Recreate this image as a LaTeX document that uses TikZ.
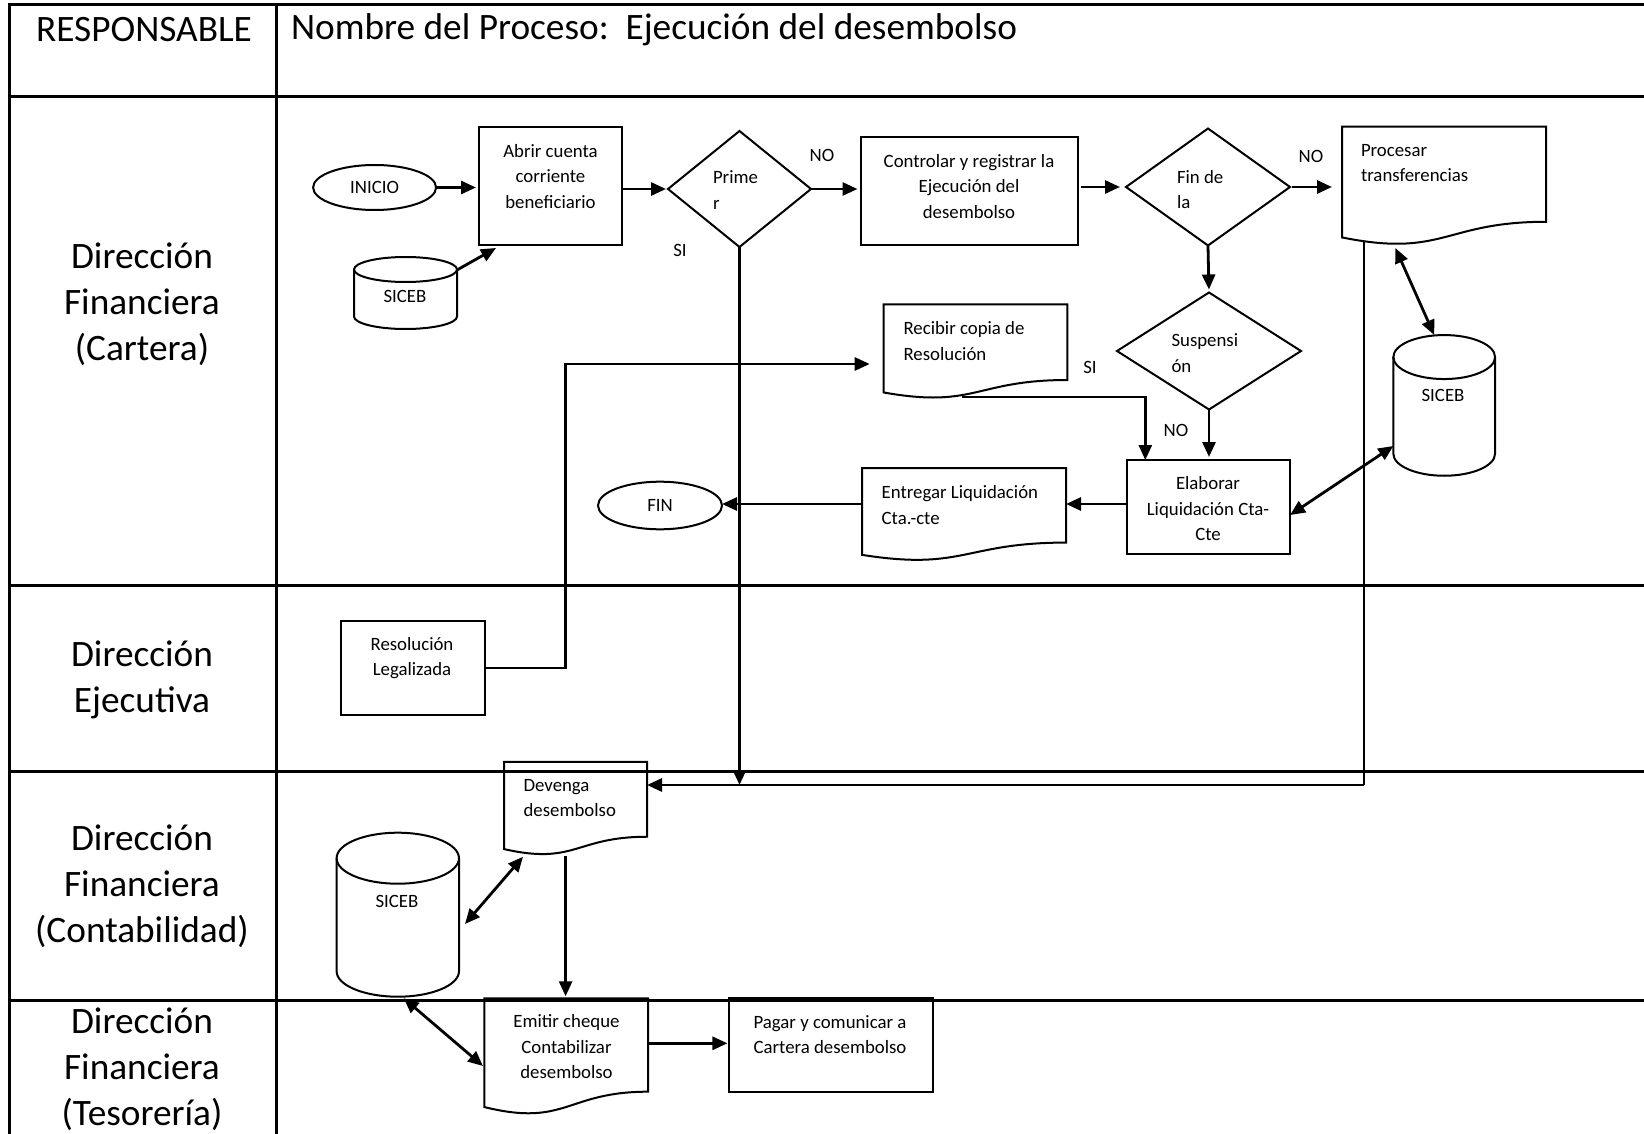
\documentclass[tikz,border=0pt]{standalone}
\usepackage{fontspec}
\setmainfont{Carlito}
\usetikzlibrary{arrows.meta,shapes.geometric,calc}

\newcommand\mydoc[1]{%
  \draw[outline] (#1.north west) -- (#1.north east) -- ($(#1.north east)!0.802!(#1.south east)$)
    .. controls ($(#1.north)!0.802!(#1.south)$) and ($(#1.north)!1.1075!(#1.south)$) ..
    ($(#1.north west)!0.934!(#1.south west)$) -- cycle;}
\newcommand\mycyl[3]{%
  \draw[outline] ([yshift=-#3]#1.north west) -- ([yshift=#3]#1.south west)
    arc[start angle=180,end angle=360,x radius=#2,y radius=#3]
    -- ([yshift=-#3]#1.north east)
    arc[start angle=0,end angle=180,x radius=#2,y radius=#3] -- cycle;
  \draw[outline] ([yshift=-#3]#1.north west) arc[start angle=180,end angle=360,x radius=#2,y radius=#3];}

\begin{document}
\begin{tikzpicture}[x=1pt,y=-1pt,
  every node/.style={inner sep=0pt, outer sep=0pt},
  small/.style={font=\fontsize{18.8}{25.5}\selectfont},
  big/.style={font=\fontsize{37.3}{46}\selectfont},
  outline/.style={draw=black, line width=2pt},
  boxnode/.style={rectangle, outline},
  frame/.style={rectangle},
  oval/.style={ellipse, outline, small},
  decision/.style={diamond, outline},
  arr/.style={line width=2.8pt, -{Triangle[length=15pt,width=13pt]}},
  darr/.style={line width=2.8pt, {Triangle[length=15pt,width=13pt]}-{Triangle[length=15pt,width=13pt]}},
  thinline/.style={line width=1.6pt},
  tline/.style={line width=3pt},
  txt/.style={small, align=center},
  txtl/.style={small, align=left, anchor=west},
  lane/.style={big, align=center},
]
\useasboundingbox (0,0) rectangle (1644,1134);

% table
\draw[tline] (8,5) -- (1644,5);
\draw[tline] (8,97) -- (1644,97);
\draw[tline] (8,585) -- (1644,585);
\draw[tline] (8,771) -- (1644,771);
\draw[tline] (8,1000) -- (1644,1000);
\draw[tline] (9.5,5) -- (9.5,1134);
\draw[tline] (276,5) -- (276,1134);

\node[big] (hresp) at (144,30) {RESPONSABLE};
\node[big, anchor=west] (hname) at (291,30) {Nombre del Proceso:~~Ejecución del desembolso};

\node[lane] (lcart) at (142,304) {Dirección\\Financiera\\(Cartera)};
\node[lane] (lejec) at (142,680) {Dirección\\Ejecutiva};
\node[lane] (lcont) at (142,886.5) {Dirección\\Financiera\\(Contabilidad)};
\node[lane] (ltes) at (142,1069) {Dirección\\Financiera\\(Tesorería)};

% shapes
\node[oval, minimum width=123pt, minimum height=45pt] (inicio) at (374.6,187.5) {INICIO};
\node[boxnode, minimum width=143pt, minimum height=118pt] (abrir) at (550.5,186) {};
\node[decision, minimum width=143pt, minimum height=116pt] (d1) at (739.5,189) {};
\node[frame, minimum width=103pt, minimum height=72pt] (siceb1) at (405.5,293) {};
\node[boxnode, minimum width=217pt, minimum height=108pt] (ctrl) at (969,191) {};
\node[decision, minimum width=164pt, minimum height=117pt] (d2) at (1208,187) {};
\node[frame, minimum width=204pt, minimum height=118.5pt] (proc) at (1444,186) {};
\node[decision, minimum width=184pt, minimum height=117pt] (d3) at (1209,351) {};
\node[frame, minimum width=101.7pt, minimum height=140.7pt] (siceb2) at (1444.2,405.4) {};
\node[frame, minimum width=183.6pt, minimum height=94.4pt] (recib) at (975.5,351.5) {};
\node[boxnode, minimum width=163.5pt, minimum height=94pt] (elab) at (1208.3,507) {};
\node[frame, minimum width=204pt, minimum height=93pt] (entr) at (964,514.5) {};
\node[oval, minimum width=124pt, minimum height=47.6pt] (fin) at (660,505.5) {FIN};
\node[boxnode, minimum width=144pt, minimum height=94pt] (resol) at (412.6,668) {};
\node[frame, minimum width=143pt, minimum height=93.5pt] (dev) at (575.5,808.5) {};
\node[frame, minimum width=122.4pt, minimum height=164pt] (siceb3) at (397.8,914.7) {};
\node[frame, minimum width=163.6pt, minimum height=116.5pt] (emit) at (566.2,1056.5) {};
\node[boxnode, minimum width=203.5pt, minimum height=93.4pt] (pagar) at (831.2,1045) {};

\mydoc{proc}
\mydoc{recib}
\mydoc{entr}
\mydoc{dev}
\mydoc{emit}
\mycyl{siceb1}{51.5pt}{12.5pt}
\mycyl{siceb2}{50.85pt}{22pt}
\mycyl{siceb3}{61.2pt}{25.5pt}

% texts
\node[txt] (abrirT) at (550.5,176.5) {Abrir cuenta\\corriente\\beneficiario};
\node[txtl] (d1T) at (713,190) {Prime\\r};
\node[txt] (s1T) at (405,296.7) {SICEB};
\node[txt] (ctrlT) at (969,186.5) {Controlar y registrar la\\Ejecución del\\desembolso};
\node[txtl] (d2T) at (1177,189.5) {Fin de\\la};
\node[txtl] (procT) at (1361,163) {Procesar\\transferencias};
\node[txtl] (d3T) at (1171.5,353) {Suspensi\\ón};
\node[txt] (s2T) at (1443,395.7) {SICEB};
\node[txtl] (recibT) at (903.6,341) {Recibir copia de\\Resolución};
\node[txt] (elabT) at (1208,509) {Elaborar\\Liquidación Cta-\\Cte};
\node[txtl] (entrT) at (881.7,505) {Entregar Liquidación\\Cta.-cte};
\node[txt] (resolT) at (412,658) {Resolución\\Legalizada};
\node[txtl] (devT) at (523.6,798) {Devenga\\desembolso};
\node[txt] (s3T) at (397,901.7) {SICEB};
\node[txt] (emitT) at (566.5,1047) {Emitir cheque\\Contabilizar\\desembolso};
\node[txt] (pagarT) at (830,1034.7) {Pagar y comunicar a\\Cartera desembolso};

\node[txt] (no1) at (822,155) {NO};
\node[txt] (si1) at (680,250.7) {SI};
\node[txt] (no2) at (1311,156) {NO};
\node[txt] (si2) at (1090,367) {SI};
\node[txt] (no3) at (1176,430) {NO};

% coordinates
\coordinate (devin) at ([yshift=23.5pt]dev.east);
\coordinate (recibout) at ([shift={(78.3,92.7)}]recib.north west);
\coordinate (elabL) at ([yshift=3pt]elab.west);
\coordinate (entrL) at ([yshift=10.5pt]entr.west);
\coordinate (procout) at ([shift={(22,114)}]proc.north west);
\coordinate (devout) at ([shift={(61.6,94.3)}]dev.north west);
\coordinate (emitR) at ([yshift=13.2pt]emit.east);
\coordinate (proccorner) at (procout |- devin);

% connectors
\draw[arr, shorten >=3pt] (inicio.east) -- (inicio.east -| abrir.west);
\draw[arr] ([yshift=-13pt]siceb1.north east) -- ([shift={(17,3)}]abrir.south west);
\draw[arr, shorten >=2pt] (abrir.east |- d1.west) -- (d1.west);
\draw[arr, shorten >=3pt] (d1.east) -- (d1.east -| ctrl.west);
\draw[arr, shorten <=3pt, shorten >=6pt] (ctrl.east |- d2.west) -- (d2.west);
\draw[arr, shorten <=2pt, shorten >=10pt] (d2.east) -- (d2.east -| proc.west);
\draw[arr, shorten >=3pt] (d2.south) -- (d3.north);
\draw[arr, shorten >=3pt] (d3.south) -- (d3.south |- elab.north);
\draw[arr] (recibout) -| ([xshift=-63pt]elab.north);
\draw[arr] (elabL) -- (elabL -| entr.east);
\draw[arr] (entrL) -- (entrL -| fin.east);
\draw[darr] ([yshift=-8pt]elab.east) -- ([yshift=-40.6pt]siceb2.west);
\draw[darr] ([shift={(53.4,121.3)}]proc.north west) -- ([xshift=-10pt]siceb2.north);
\draw[thinline] (procout) -- (proccorner);
\draw[arr] (proccorner) -- (devin);
\draw[arr] (d1.south) -- (d1.south |- devin);
\draw[arr] (resol.east) -- ++(80.5,0) |- ([shift={(-14,12.5)}]recib.west);
\draw[arr, shorten >=2pt] (devout) -- (devout |- emit.north);
\draw[darr] ([shift={(6,9.3)}]siceb3.east) -- ([shift={(19,95)}]dev.north west);
\draw[darr] ([shift={(6,1.6)}]siceb3.south) -- ([shift={(-1.4,9.5)}]emit.west);
\draw[arr, shorten >=2pt] (emitR) -- (emitR -| pagar.west);
\end{tikzpicture}
\end{document}
